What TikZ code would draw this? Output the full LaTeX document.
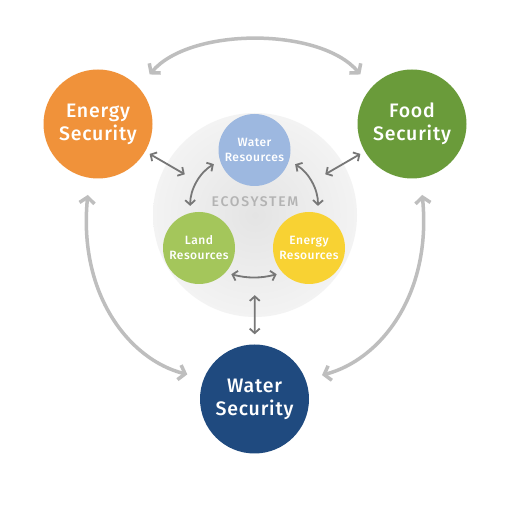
\documentclass[tikz,border=0pt]{standalone}
\usepackage{fontspec}
\setmainfont{Fira Sans}[UprightFont={* Medium}, BoldFont={* SemiBold}]
\usetikzlibrary{arrows.meta,backgrounds,calc}
\definecolor{cEnergy}{HTML}{F0923A}
\definecolor{cFood}{HTML}{6A9B3A}
\definecolor{cWater}{HTML}{1F4A7F}
\definecolor{cWR}{HTML}{9DB8E0}
\definecolor{cLR}{HTML}{A4C65B}
\definecolor{cER}{HTML}{F8D233}
\definecolor{cEcoIn}{HTML}{E4E4E4}
\definecolor{cEcoOut}{HTML}{F3F3F3}
\definecolor{cBig}{HTML}{BEBEBE}
\definecolor{cSmall}{HTML}{777777}
\definecolor{cEcoTxt}{HTML}{B3B3B3}
\tikzset{
  secnode/.style={circle, draw=none, minimum size=109pt, inner sep=0pt, align=center,
    text=white, font=\fontsize{19.5}{23}\selectfont\addfontfeature{LetterSpace=4}},
  resnode/.style={circle, draw=none, minimum size=72pt, inner sep=0pt, align=center,
    text=white, font=\fontsize{12}{15}\selectfont\addfontfeature{LetterSpace=4}},
  econode/.style={circle, draw=none, inner color=cEcoIn, outer color=cEcoOut, minimum size=204pt, inner sep=0pt},
  shadowring/.style={fill=black, fill opacity=0.035, draw=none},
  ecoshadow/.style={fill=black, fill opacity=0.05, draw=none},
  bigarrow/.style={draw=cBig, line width=3.5pt, {Straight Barb[length=6pt,width=15pt]}-{Straight Barb[length=6pt,width=15pt]}},
  smallarrow/.style={draw=cSmall, line width=1.8pt, {Straight Barb[length=4.5pt,width=10pt]}-{Straight Barb[length=4.5pt,width=10pt]}}
}
\begin{document}
\begin{tikzpicture}[x=1pt,y=1pt]
\useasboundingbox[fill=white] (0,0) rectangle (510,510);
% ecosystem
\node[econode] (eco) at (255,295) {};
\node[font=\fontsize{14}{14}\selectfont\addfontfeature{LetterSpace=12}, text=cEcoTxt] (ecotxt) at (255,308) {ECOSYSTEM};
% resources
\node[resnode, fill=cWR] (wr) at (254.5,360) {Water\\Resources};
\node[resnode, fill=cLR] (lr) at (199,262) {Land\\Resources};
\node[resnode, fill=cER] (er) at (309,262) {Energy\\Resources};
% security
\node[secnode, fill=cEnergy] (es) at (98,386) {Energy\\Security};
\node[secnode, fill=cFood] (fs) at (412,386) {Food\\Security};
\node[secnode, fill=cWater] (ws) at (254.5,111) {Water\\Security};
% shadows
\begin{scope}[on background layer]
  \foreach \k in {0,...,7} {
    \fill[ecoshadow] ($(eco)+(1.5,-2.5)$) circle (100+0.9*\k);
    \fill[shadowring] ($(es)+(1.5,-2.5)$) circle (53+\k);
    \fill[shadowring] ($(fs)+(1.5,-2.5)$) circle (53+\k);
    \fill[shadowring] ($(ws)+(1.5,-2.5)$) circle (53+\k);
    \fill[shadowring] ($(wr)+(1,-2)$) circle (35+0.5*\k);
    \fill[shadowring] ($(lr)+(1,-2)$) circle (35+0.5*\k);
    \fill[shadowring] ($(er)+(1,-2)$) circle (35+0.5*\k);
  }
\end{scope}
% big arrows
\draw[bigarrow, shorten <=17pt, shorten >=17pt] (es.42) .. controls (190,483) and (320,483) .. (fs.138);
\draw[bigarrow, shorten <=17pt, shorten >=17pt] (es.261) .. controls (78,215) and (130,150) .. (ws.158.6);
\draw[bigarrow, shorten <=17pt, shorten >=17pt] (fs.279) .. controls (432,215) and (380,150) .. (ws.21.4);
% small arrows
\draw[smallarrow, shorten <=5pt, shorten >=-21pt] (es) -- (eco);
\draw[smallarrow, shorten <=5pt, shorten >=-21pt] (fs) -- (eco);
\draw[smallarrow, shorten <=7pt, shorten >=7pt] (wr.197) to[bend right=30] (lr.104);
\draw[smallarrow, shorten <=7pt, shorten >=7pt] (wr.-17) to[bend left=30] (er.76);
\draw[smallarrow, shorten <=6pt, shorten >=6pt] (lr.-43) to[bend right=15] (er.223);
\draw[smallarrow, shorten <=-22pt, shorten >=10pt] (eco) -- (ws);
\end{tikzpicture}
\end{document}
